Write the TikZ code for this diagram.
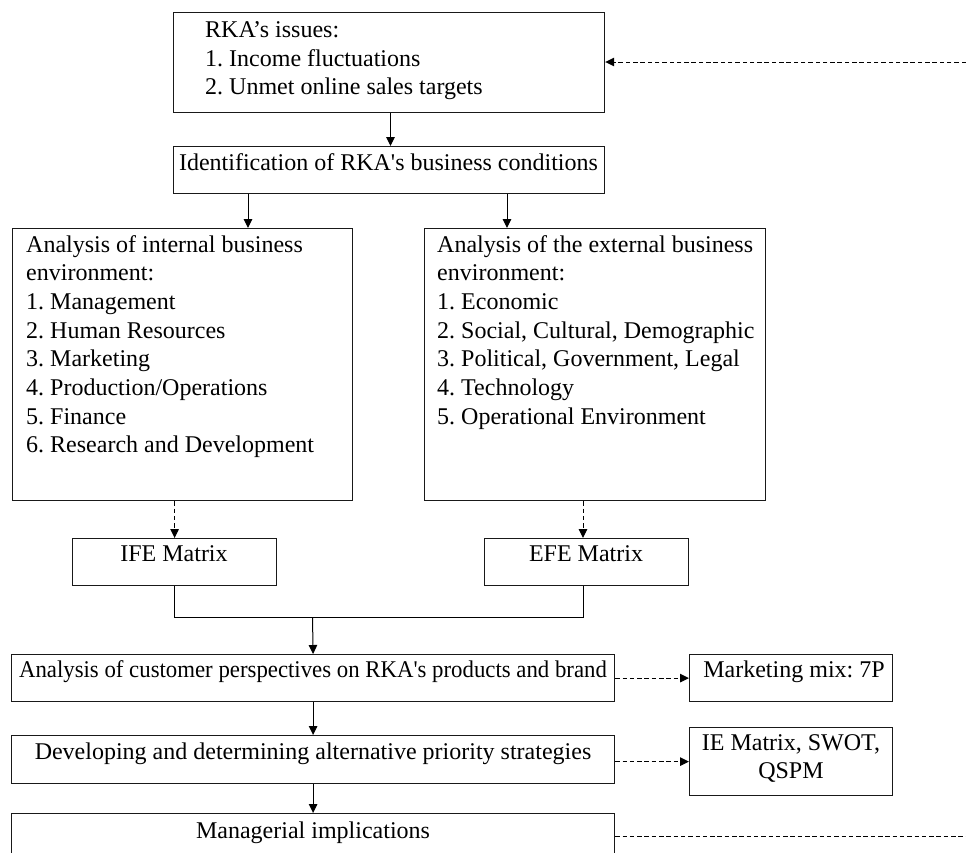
\documentclass[tikz,border=0pt]{standalone}
\usepackage{fontspec}
\setmainfont{Liberation Serif}
\usetikzlibrary{arrows.meta,calc}
\newcommand{\mylines}[1]{\begin{tabular}[t]{@{}l@{}}#1\end{tabular}}
\newcommand{\mylinesc}[1]{\begin{tabular}[t]{@{}c@{}}#1\end{tabular}}
\newcommand{\sq}{\textquotesingle}
\tikzset{
  box/.style={draw=black!90, line width=1.2pt, inner sep=0pt, anchor=north west},
  txt/.style={inner sep=0pt, font=\fontsize{24}{28.7}\selectfont\frenchspacing},
  arr/.style={line width=1pt, -{Triangle[length=9pt,width=8.5pt]}},
  darr/.style={line width=1pt, dash pattern=on 4.5pt off 2.8pt, -{Triangle[length=9pt,width=8.5pt]}},
  dline/.style={line width=1pt, dash pattern=on 4.5pt off 2.8pt},
}
\begin{document}
\begin{tikzpicture}[x=1pt,y=-1pt]
\useasboundingbox (0,0) rectangle (966,852);
\clip (0,0) rectangle (966,852);
% boxes
\node[box, minimum width=431pt, minimum height=100pt] (b1) at (173,12) {};
\node[box, minimum width=431pt, minimum height=47pt] (b2) at (173,146) {};
\node[box, minimum width=340pt, minimum height=272pt] (b3) at (12,228) {};
\node[box, minimum width=341pt, minimum height=272pt] (b4) at (424,228) {};
\node[box, minimum width=204pt, minimum height=47pt] (ife) at (72,538) {};
\node[box, minimum width=204pt, minimum height=47pt] (efe) at (484,538) {};
\node[box, minimum width=603pt, minimum height=47pt] (b5) at (11,654) {};
\node[box, minimum width=203pt, minimum height=47pt] (mm) at (689,654) {};
\node[box, minimum width=603pt, minimum height=48pt] (b6) at (11,735) {};
\node[box, minimum width=203pt, minimum height=68pt] (ie) at (689,727) {};
\node[box, minimum width=603pt, minimum height=60pt] (b7) at (11,813) {};
% texts
\node[txt, anchor=base west] (t1) at (205,37.5) {\mylines{RKA’s issues:\\1. Income fluctuations\\2. Unmet online sales targets}};
\node[txt, anchor=base] (t2) at (388.5,170) {Identification of RKA\sq s business conditions};
\node[txt, anchor=base west] (t3) at (26,252) {\mylines{Analysis of internal business\\environment:\\1. Management\\2. Human Resources\\3. Marketing\\4. Production/Operations\\5. Finance\\6. Research and Development}};
\node[txt, anchor=base west] (t4) at (437,252) {\mylines{Analysis of the external business\\environment:\\1. Economic\\2. Social, Cultural, Demographic\\3. Political, Government, Legal\\4. Technology\\5. Operational Environment}};
\node[txt, anchor=base] (t5) at (174,561) {IFE Matrix};
\node[txt, anchor=base] (t6) at (586,561.5) {EFE Matrix};
\node[txt, anchor=base] (t7) at (313,677) {\scalebox{0.95}[1]{Analysis of customer perspectives on RKA\sq s products and brand}};
\node[txt, anchor=base] (t8) at (794,677) {Marketing mix: 7P};
\node[txt, anchor=base] (t9) at (313,759) {Developing and determining alternative priority strategies};
\node[txt, anchor=base] (t10) at (791,750) {\mylinesc{IE Matrix, SWOT,\\QSPM}};
\node[txt, anchor=base] (t11) at (313,838) {Managerial implications};
% helper coordinates
\coordinate (c1) at (248,0);
\coordinate (c2) at (507,0);
\coordinate (m) at (312.5,617);
\coordinate (r1) at (966,62);
\coordinate (r2) at (966,836);
% connectors
\draw[arr] (b1.south -| 390.5,0) -- (b2.north -| 390.5,0);
\draw[arr] (b2.south -| c1) -- (b3.north -| c1);
\draw[arr] (b2.south -| c2) -- (b4.north -| c2);
\draw[darr] (b3.south -| ife.north) -- (ife.north);
\draw[darr] (b4.south -| 583,0) -- (efe.north -| 583,0);
\draw[line width=1pt] (ife.south) |- (m) -| (efe.south -| 583,0);
\draw[arr] (m) -- (b5.north);
\draw[arr] (b5.south) -- (b6.north);
\draw[arr] (b6.south) -- (b7.north);
\draw[darr] (b5.east) -- (mm.west);
\draw[darr] (b6.east |- ie.west) -- (ie.west);
\draw[darr] (r1) -- (b1.east |- r1);
\draw[dline] (b7.east |- r2) -- (r2);
\end{tikzpicture}
\end{document}
